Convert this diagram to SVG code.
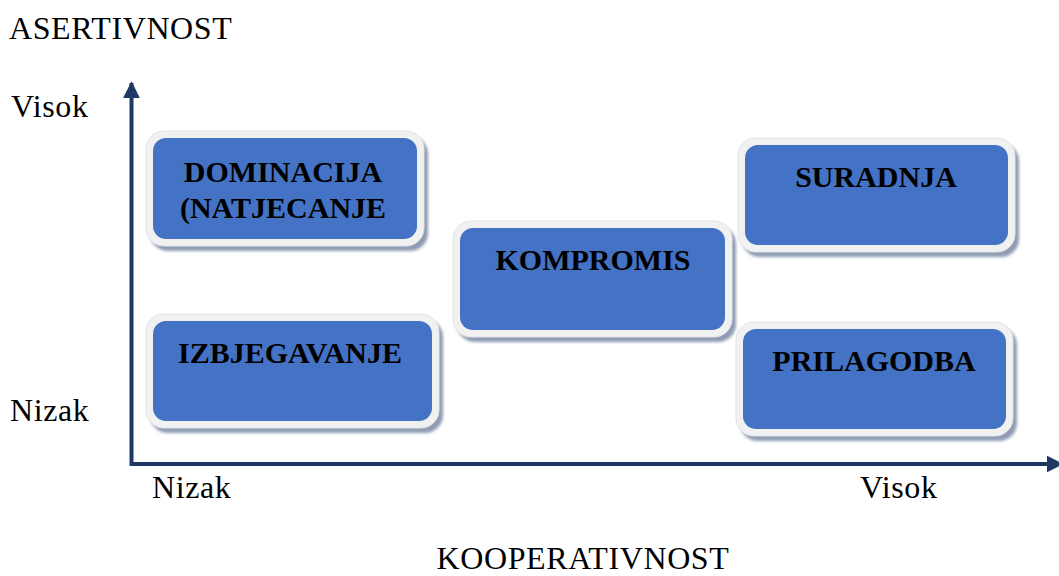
<svg xmlns="http://www.w3.org/2000/svg" width="1059" height="576" viewBox="0 0 1059 576">
<style>
.lbl{font-family:"Liberation Serif","Times New Roman",serif;font-size:32px;letter-spacing:0.6px;fill:#000}
.box{font-family:"Liberation Serif","Times New Roman",serif;font-size:30px;font-weight:bold;fill:#000;text-anchor:middle}
.frame{fill:#f1f1f1;stroke:#e4e4e4;stroke-width:1}
.shadow{fill:#8e9bb4;filter:url(#blur)}
.inner{fill:#4472c4}
.axis{stroke:#1f3864;stroke-width:4;fill:none}
</style>
<defs>
<filter id="blur" x="-10%" y="-10%" width="120%" height="130%"><feGaussianBlur stdDeviation="1.5"/></filter>
<marker id="arr" viewBox="0 0 10 10" refX="9" refY="5" markerWidth="4.2" markerHeight="4.2" orient="auto" markerUnits="strokeWidth">
<path d="M0,0 L10,5 L0,10 Z" fill="#1f3864"/>
</marker>
</defs>
<rect width="1059" height="576" fill="#fff"/>
<text class="lbl" x="9" y="39">ASERTIVNOST</text>
<text class="lbl" x="11" y="117">Visok</text>
<text class="lbl" x="10" y="421">Nizak</text>
<text class="lbl" x="152" y="498">Nizak</text>
<text class="lbl" x="860" y="498">Visok</text>
<text class="lbl" x="583" y="569" text-anchor="middle">KOOPERATIVNOST</text>
<g id="connectors">
<path class="axis" d="M131.5,466 L131.5,83" marker-end="url(#arr)"/>
<path class="axis" d="M130,464 L1062,464" marker-end="url(#arr)"/>
</g>
<g id="dominacija">
<rect class="shadow" x="150" y="136" width="278" height="115" rx="18"/>
<rect class="frame" x="146" y="131" width="278" height="115" rx="18"/>
<rect class="inner" x="153" y="138" width="264" height="101" rx="13"/>
<text class="box" x="283" y="182">DOMINACIJA</text>
<text class="box" x="283" y="218">(NATJECANJE</text>
</g>
<g id="kompromis">
<rect class="shadow" x="457" y="226" width="279" height="116" rx="18"/>
<rect class="frame" x="453" y="221" width="279" height="116" rx="18"/>
<rect class="inner" x="460" y="228" width="265" height="102" rx="13"/>
<text class="box" x="593" y="270">KOMPROMIS</text>
</g>
<g id="suradnja">
<rect class="shadow" x="742" y="143" width="277" height="114" rx="18"/>
<rect class="frame" x="738" y="138" width="277" height="114" rx="18"/>
<rect class="inner" x="745" y="145" width="263" height="100" rx="13"/>
<text class="box" x="876" y="187">SURADNJA</text>
</g>
<g id="izbjegavanje">
<rect class="shadow" x="150" y="319" width="293" height="114" rx="18"/>
<rect class="frame" x="146" y="314" width="293" height="114" rx="18"/>
<rect class="inner" x="153" y="321" width="279" height="100" rx="13"/>
<text class="box" x="290" y="363">IZBJEGAVANJE</text>
</g>
<g id="prilagodba">
<rect class="shadow" x="740" y="327" width="277" height="114" rx="18"/>
<rect class="frame" x="736" y="322" width="277" height="114" rx="18"/>
<rect class="inner" x="743" y="329" width="263" height="100" rx="13"/>
<text class="box" x="874" y="371">PRILAGODBA</text>
</g>
</svg>
